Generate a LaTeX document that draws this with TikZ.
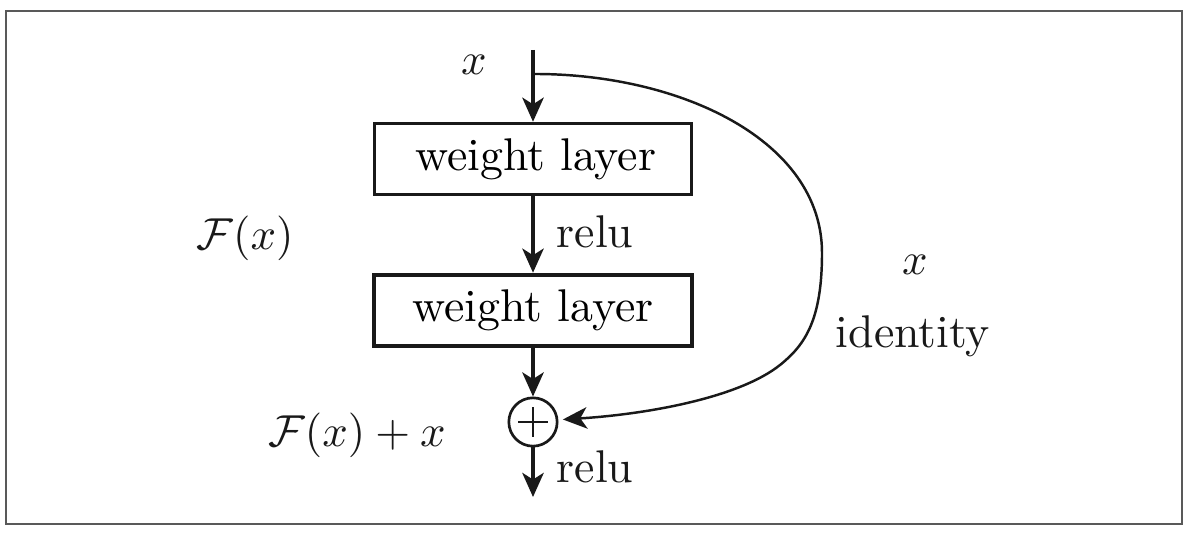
\documentclass[tikz,border=0pt]{standalone}
\usetikzlibrary{arrows.meta}
\begin{document}
\begin{tikzpicture}[x=0.2235pt,y=-0.2235pt,
  arr/.style={-{Stealth[length=5.4pt,width=4.8pt,inset=1.5pt]}},
  spine/.style={line width=0.7pt, draw=black!90},
  layerbox/.style={draw=black!90, rectangle, inner sep=0pt, minimum width=71pt, minimum height=16pt},
  lbl/.style={inner sep=0pt, text=black!90},
  every node/.append style={font=\fontsize{10.25pt}{12pt}\selectfont}]
\useasboundingbox (0,0) rectangle (1192,535);
\draw[black!65, line width=0.4pt] (6,11) rectangle (1182,524);

\node[layerbox, line width=0.65pt] (w1) at (533,159) {\hspace{1.2pt}weight layer};
\node[layerbox, line width=0.9pt] (w2) at (533,310.5) {weight layer\hspace{1pt}};
\node[draw=black!90, circle, line width=0.6pt, inner sep=0pt, minimum size=10.8pt] (add) at (533,422) {};
\draw[line width=0.35pt, black!90] ([xshift=-3.3pt]add.center) -- ([xshift=3.3pt]add.center);
\draw[line width=0.35pt, black!90] ([yshift=-3.3pt]add.center) -- ([yshift=3.3pt]add.center);

\coordinate (in) at (533,50);
\coordinate (split) at (535,74);
\coordinate (out) at (533,497);

\draw[spine, arr] (in) -- (w1.north);
\draw[spine, arr] (w1.south) -- (w2.north);
\draw[spine, arr] (w2.south) -- (add.north);
\draw[spine, arr] (add.south) -- (out);
\draw[line width=0.55pt, draw=black!90, arr, shorten >=1pt]
  (split) .. controls (680,74) and (822,140) .. (822,253)
  .. controls (822,320) and (805,345) .. (780,365)
  .. controls (740,397) and (650,414) .. (add.5);

\node[lbl] (xin) at (474,65) {$x$};
\node[lbl] (fx) at (245,238) {$\mathcal{F}(x)$};
\node[lbl] (relu1) at (595,232) {relu};
\node[lbl] (xid) at (915,265) {$x$};
\node[lbl] (ident) at (913,336) {identity};
\node[lbl] (fxx) at (357,435) {$\mathcal{F}(x) + x$};
\node[lbl] (relu2) at (595,467) {relu};
\end{tikzpicture}
\end{document}
